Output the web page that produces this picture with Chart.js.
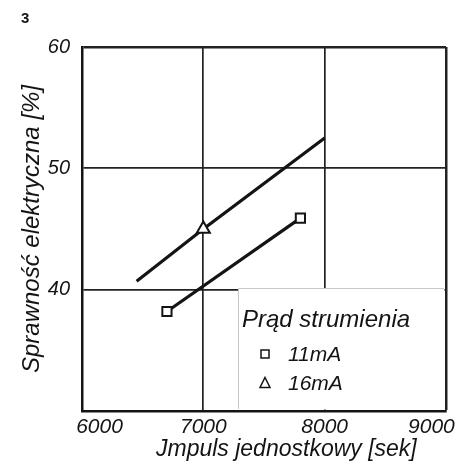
<!DOCTYPE html>
<html>
<head>
<meta charset="utf-8">
<script src="https://cdn.jsdelivr.net/npm/chart.js@4/dist/chart.umd.min.js"></script>
<style>
  html, body { margin: 0; padding: 0; background: #fff; }
  #wrap { width: 457px; height: 466px; position: relative; }
</style>
</head>
<body>
<div id="wrap"><canvas id="c" width="457" height="466"></canvas></div>
<script>
// Efficiency vs. specific impulse for two beam currents
const xTickValues = [6000, 7000, 8000, 9000];
const yTickValues = [40, 50, 60];

const seriesNames = ['11mA', '16mA'];
const impulse11 = [6700, 7800];
const efficiency11 = [38.2, 45.9];
const impulse16 = [6450, 7000, 8000];
const efficiency16 = [40.7, 45.0, 52.5];
const measured16 = [false, true, false];   // only the middle point is a measurement

const figureNumber = '3';
const legendTitle = 'Prąd strumienia';
const xTitle = 'Jmpuls jednostkowy [sek]';
const yTitle = 'Sprawność elektryczna [%]';

const INK = '#141414';
const FAMILY = '"Liberation Sans", "DejaVu Sans", sans-serif';

const toPoints = (xs, ys) => xs.map((x, i) => ({ x: x, y: ys[i] }));

// Legend panel in the lower-right corner of the plot, plus the figure number
const panelPlugin = {
  id: 'panel',
  beforeDatasetsDraw(chart) {
    const { ctx, chartArea } = chart;
    const left = 238, top = 288;
    ctx.save();
    ctx.fillStyle = '#fff';
    ctx.fillRect(left, top, chartArea.right - left - 1.5, chartArea.bottom - top - 1.5);
    ctx.strokeStyle = '#c8c8c8';
    ctx.lineWidth = 1;
    ctx.beginPath();
    ctx.moveTo(left + 0.5, chartArea.bottom - 2);
    ctx.lineTo(left + 0.5, top + 0.5);
    ctx.lineTo(chartArea.right - 2, top + 0.5);
    ctx.stroke();

    ctx.fillStyle = INK;
    ctx.textBaseline = 'middle';
    ctx.textAlign = 'left';
    ctx.font = 'italic 24px ' + FAMILY;
    ctx.fillText(legendTitle, 242, 320);

    ctx.font = 'italic 21px ' + FAMILY;
    chart.data.datasets.forEach((ds, i) => {
      const y = 354 + i * 29;
      const mx = 265;
      ctx.strokeStyle = INK;
      ctx.lineWidth = 1.5;
      ctx.fillStyle = '#fff';
      ctx.beginPath();
      if (ds.pointStyle === 'rect') {
        ctx.rect(mx - 4, y - 4, 8, 8);
      } else {
        ctx.moveTo(mx, y - 5.5);
        ctx.lineTo(mx + 5, y + 4.5);
        ctx.lineTo(mx - 5, y + 4.5);
        ctx.closePath();
      }
      ctx.fill();
      ctx.stroke();
      ctx.fillStyle = INK;
      ctx.fillText(ds.label, 288, y + 1);
    });

    ctx.font = 'bold 15px ' + FAMILY;
    ctx.fillText(figureNumber, 21, 19);
    ctx.restore();
  }
};

const edgeWidth = (c, edgeValue) => (c.tick && c.tick.value === edgeValue ? 2.5 : 1.7);

new Chart(document.getElementById('c'), {
  type: 'scatter',
  data: {
    datasets: [
      {
        label: seriesNames[0],
        data: toPoints(impulse11, efficiency11),
        showLine: true,
        borderColor: INK,
        borderWidth: 3.2,
        pointStyle: 'rect',
        pointRadius: 6.5,
        pointBackgroundColor: '#fff',
        pointBorderColor: INK,
        pointBorderWidth: 2
      },
      {
        label: seriesNames[1],
        data: toPoints(impulse16, efficiency16),
        showLine: true,
        borderColor: INK,
        borderWidth: 3.2,
        pointStyle: 'triangle',
        pointRadius: measured16.map(m => (m ? 7.5 : 0)),
        pointBackgroundColor: '#fff',
        pointBorderColor: INK,
        pointBorderWidth: 2
      }
    ]
  },
  options: {
    responsive: false,
    animation: false,
    layout: { autoPadding: false, padding: { top: 47, right: 11, left: 0, bottom: 0 } },
    plugins: { legend: { display: false }, tooltip: { enabled: false } },
    scales: {
      x: {
        type: 'linear',
        min: xTickValues[0],
        max: xTickValues[xTickValues.length - 1],
        afterBuildTicks: s => { s.ticks = xTickValues.map(v => ({ value: v })); },
        afterFit: s => { s.height = 55; s.paddingLeft = 0; s.paddingRight = 0; },
        ticks: {
          color: INK,
          padding: 4,
          maxRotation: 0,
          font: { family: FAMILY, style: 'italic', size: 21 },
          callback: (v, i) => {
            const s = String(v);
            if (i === 0) return '      ' + s;
            if (i === xTickValues.length - 1) return s + '     ';
            return s;
          }
        },
        grid: {
          color: '#222',
          lineWidth: c => edgeWidth(c, xTickValues[xTickValues.length - 1]),
          drawTicks: false
        },
        border: { color: INK, width: 2.5 },
        title: {
          display: true,
          text: '       ' + xTitle,
          color: INK,
          font: { family: FAMILY, style: 'italic', size: 23 },
          padding: { top: 0, bottom: 3 }
        }
      },
      y: {
        type: 'linear',
        min: 30,
        max: 60,
        afterBuildTicks: s => { s.ticks = yTickValues.map(v => ({ value: v })); },
        afterFit: s => { s.width = 82; s.paddingTop = 0; s.paddingBottom = 0; },
        ticks: {
          color: INK,
          padding: 12,
          font: { family: FAMILY, style: 'italic', size: 20 }
        },
        grid: {
          color: '#222',
          lineWidth: c => edgeWidth(c, 60),
          drawTicks: false
        },
        border: { color: INK, width: 2.5 },
        title: {
          display: true,
          text: yTitle,
          color: INK,
          font: { family: FAMILY, style: 'italic', size: 24 },
          padding: { top: 18, bottom: 0 }
        }
      }
    }
  },
  plugins: [panelPlugin]
});
</script>
</body>
</html>
